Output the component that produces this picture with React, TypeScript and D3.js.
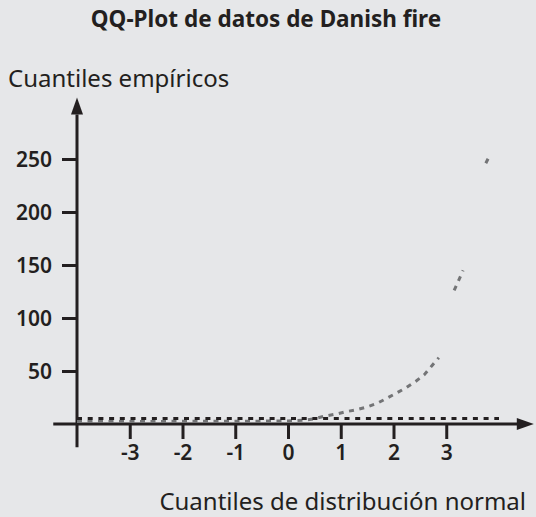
import React, { useEffect, useRef } from 'react';
import * as d3 from 'd3';

// normal quantiles (x) vs empirical quantiles (y); null = break in the line
const normalQuantiles = [-4, -3, -2, -1, 0, 0.3, 0.5, 0.73, 0.92, 1.1, 1.3, 1.52, 1.69, 1.87, 2.05, 2.24, 2.43, 2.58, 2.74, 2.86, null, 3.15, 3.32, null, 3.75, 3.83];
const empiricalQuantiles = [2.3, 2.4, 2.5, 2.6, 2.8, 3.5, 5, 7.8, 9.4, 11.6, 13.5, 16.4, 19.5, 24.2, 29, 34.3, 40.6, 46.2, 55.7, 62.6, null, 126, 145, null, 246, 254];

const refLineX = [-4, 4];
const refLineY = [5.2, 5.2];

const xTicks = [-3, -2, -1, 0, 1, 2, 3];
const yTicks = [50, 100, 150, 200, 250];

const title = 'QQ-Plot de datos de Danish fire';
const yLabel = 'Cuantiles empíricos';
const xLabel = 'Cuantiles de distribución normal';

const W = 536;
const H = 517;
const INK = '#231f20';
const FONT = '"Noto Sans", sans-serif';

const App = () => {
  const ref = useRef<SVGSVGElement>(null);

  useEffect(() => {
    const svg = d3.select(ref.current);
    svg.selectAll('*').remove();

    const x = d3.scaleLinear().domain([-4, 4]).range([77, 499]);
    const y = d3.scaleLinear().domain([0, 250]).range([424, 159]);

    svg.append('rect').attr('width', W).attr('height', H).attr('fill', '#e6e7e9');

    // title and axis labels
    svg.append('text')
      .attr('x', 266).attr('y', 27)
      .attr('text-anchor', 'middle')
      .attr('font-family', FONT).attr('font-weight', 700).attr('font-size', 22.5)
      .attr('fill', INK)
      .text(title);

    svg.append('text')
      .attr('x', 8).attr('y', 87)
      .attr('font-family', FONT).attr('font-size', 24)
      .attr('fill', INK)
      .text(yLabel);

    svg.append('text')
      .attr('x', 526).attr('y', 510)
      .attr('text-anchor', 'end')
      .attr('font-family', FONT).attr('font-size', 24)
      .attr('fill', INK)
      .text(xLabel);

    // axes
    const fmt = (d: d3.NumberValue) => String(d);
    const yAxis = svg.append('g')
      .attr('transform', `translate(${x(-4)},0)`)
      .call(d3.axisLeft(y).tickValues(yTicks).tickSize(15).tickPadding(10).tickFormat(fmt));
    const xAxis = svg.append('g')
      .attr('transform', `translate(0,${y(0)})`)
      .call(d3.axisBottom(x).tickValues(xTicks).tickSize(15).tickPadding(6).tickFormat(fmt));

    [yAxis, xAxis].forEach((g) => {
      g.select('.domain').remove();
      g.selectAll('line').attr('stroke', INK).attr('stroke-width', 3);
      g.selectAll('text')
        .attr('font-family', FONT).attr('font-weight', 600).attr('font-size', 21)
        .attr('fill', INK);
    });
    yAxis.selectAll('text').attr('dy', '0.35em');

    // axis lines with arrowheads
    svg.append('line')
      .attr('x1', x(-4)).attr('x2', x(-4))
      .attr('y1', y(-22)).attr('y2', y(292))
      .attr('stroke', INK).attr('stroke-width', 3);
    svg.append('line')
      .attr('x1', x(-4.45)).attr('x2', x(4.4))
      .attr('y1', y(0)).attr('y2', y(0))
      .attr('stroke', INK).attr('stroke-width', 3);

    const ax = x(-4);
    const ayTip = y(308);
    svg.append('path')
      .attr('d', `M${ax},${ayTip}L${ax - 6},${ayTip + 17}L${ax + 6},${ayTip + 17}Z`)
      .attr('fill', INK);
    const bxTip = x(4.66);
    const by = y(0);
    svg.append('path')
      .attr('d', `M${bxTip},${by}L${bxTip - 17},${by - 6}L${bxTip - 17},${by + 6}Z`)
      .attr('fill', INK);

    // empirical quantiles (grey dashed)
    const qq = normalQuantiles.map((q, i) => ({ q, v: empiricalQuantiles[i] }));
    const line = d3.line<{ q: number | null; v: number | null }>()
      .defined((d) => d.q !== null && d.v !== null)
      .x((d) => x(d.q as number))
      .y((d) => y(d.v as number));

    svg.append('path')
      .datum(qq)
      .attr('d', line)
      .attr('fill', 'none')
      .attr('stroke', '#737476')
      .attr('stroke-width', 3)
      .attr('stroke-dasharray', '5 5.5');

    // reference line (black dashed)
    const ref2 = refLineX.map((q, i) => ({ q, v: refLineY[i] }));
    svg.append('path')
      .datum(ref2)
      .attr('d', line)
      .attr('fill', 'none')
      .attr('stroke', INK)
      .attr('stroke-width', 3)
      .attr('stroke-dasharray', '5 5.7');
  }, []);

  return (
    <svg
      ref={ref}
      width={W}
      height={H}
      style={{ position: 'fixed', top: 0, left: 0, display: 'block' }}
    />
  );
};

export default App;
